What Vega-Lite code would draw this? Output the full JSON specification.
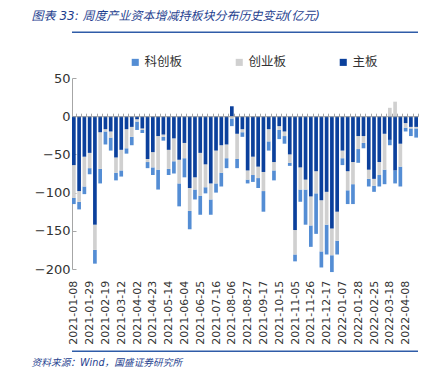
{
  "$schema": "https://vega.github.io/schema/vega-lite/v6.json",
  "background": "white",
  "padding": {"left": 20, "top": 9, "right": 11, "bottom": 5},
  "spacing": 8,
  "bounds": "flush",
  "config": {
    "font": "DejaVu Sans, Noto Sans CJK SC",
    "view": {"stroke": null}
  },
  "resolve": {
    "scale": {"y": "independent", "x": "independent", "color": "independent"},
    "axis": {"x": "independent", "y": "independent"},
    "legend": {"color": "independent"}
  },
  "vconcat": [
    {
      "width": 346,
      "height": 1,
      "title": {
        "text": "图表 33:  周度产业资本增减持板块分布历史变动(亿元)",
        "anchor": "start",
        "dx": -40.4,
        "offset": 41,
        "fontSize": 12,
        "fontStyle": "italic",
        "fontWeight": "normal",
        "color": "#1F3F8F",
        "font": "DejaVu Sans, Noto Sans CJK SC"
      },
      "data": {"values": [{"t": " "}]},
      "mark": {"type": "text"},
      "encoding": {"text": {"field": "t"}}
    },
    {
      "width": 346,
      "height": 191,
      "data": {
        "values": [
          {"d": "2021-01-08", "科创板": -8, "创业板": -43, "主板": -64},
          {"d": "2021-01-15", "科创板": -10, "创业板": -14, "主板": -98},
          {"d": "2021-01-22", "科创板": -10, "创业板": -39, "主板": -53},
          {"d": "2021-01-29", "科创板": -8, "创业板": -20, "主板": -48},
          {"d": "2021-02-05", "科创板": -18, "创业板": -33, "主板": -142},
          {"d": "2021-02-12", "科创板": -19, "创业板": -48, "主板": -21},
          {"d": "2021-02-19", "科创板": -17, "创业板": -3, "主板": -17},
          {"d": "2021-02-26", "科创板": -17, "创业板": -8, "主板": -20},
          {"d": "2021-03-05", "科创板": -10, "创业板": -20, "主板": -54},
          {"d": "2021-03-12", "科创板": -8, "创业板": -27, "主板": -44},
          {"d": "2021-03-19", "科创板": -7, "创业板": -25, "主板": -17},
          {"d": "2021-03-26", "科创板": -11, "创业板": -13, "主板": -14},
          {"d": "2021-04-02", "科创板": -11, "创业板": -3, "主板": -4},
          {"d": "2021-04-09", "科创板": -4, "创业板": -2, "主板": -16},
          {"d": "2021-04-16", "科创板": -8, "创业板": -4, "主板": -56},
          {"d": "2021-04-23", "科创板": -10, "创业板": -20, "主板": -47},
          {"d": "2021-04-30", "科创板": -26, "创业板": -44, "主板": -26},
          {"d": "2021-05-07", "科创板": -5, "创业板": -3, "主板": -24},
          {"d": "2021-05-14", "科创板": -8, "创业板": -25, "主板": -44},
          {"d": "2021-05-21", "科创板": -16, "创业板": -30, "主板": -29},
          {"d": "2021-05-28", "科创板": -30, "创业板": -31, "主板": -57},
          {"d": "2021-06-04", "科创板": -25, "创业板": -20, "主板": -35},
          {"d": "2021-06-11", "科创板": -24, "创业板": -30, "主板": -94},
          {"d": "2021-06-18", "科创板": -13, "创业板": -16, "主板": -80},
          {"d": "2021-06-25", "科创板": -25, "创业板": -56, "主板": -48},
          {"d": "2021-07-02", "科创板": -8, "创业板": -30, "主板": -63},
          {"d": "2021-07-09", "科创板": -20, "创业板": -21, "主板": -88},
          {"d": "2021-07-16", "科创板": -12, "创业板": -43, "主板": -45},
          {"d": "2021-07-23", "科创板": -18, "创业板": -36, "主板": -38},
          {"d": "2021-07-30", "科创板": -13, "创业板": -18, "主板": -37},
          {"d": "2021-08-06", "科创板": -10, "创业板": -3, "主板": 13},
          {"d": "2021-08-13", "科创板": -12, "创业板": -33, "主板": -23},
          {"d": "2021-08-20", "科创板": -6, "创业板": -4, "主板": -17},
          {"d": "2021-08-27", "科创板": -5, "创业板": -12, "主板": -71},
          {"d": "2021-09-03", "科创板": -9, "创业板": -24, "主板": -53},
          {"d": "2021-09-10", "科创板": -13, "创业板": -15, "主板": -66},
          {"d": "2021-09-17", "科创板": -27, "创业板": -25, "主板": -73},
          {"d": "2021-09-24", "科创板": -12, "创业板": -16, "主板": -17},
          {"d": "2021-09-30", "科创板": -13, "创业板": -11, "主板": -60},
          {"d": "2021-10-15", "科创板": -12, "创业板": -5, "主板": -13},
          {"d": "2021-10-22", "科创板": -10, "创业板": -6, "主板": -20},
          {"d": "2021-10-29", "科创板": -4, "创业板": -11, "主板": -50},
          {"d": "2021-11-05", "科创板": -9, "创业板": -32, "主板": -149},
          {"d": "2021-11-12", "科创板": -16, "创业板": -29, "主板": -67},
          {"d": "2021-11-19", "科创板": -46, "创业板": -13, "主板": -83},
          {"d": "2021-11-26", "科创板": -28, "创业板": -38, "主板": -105},
          {"d": "2021-12-03", "科创板": -53, "创业板": -29, "主板": -72},
          {"d": "2021-12-10", "科创板": -21, "创业板": -67, "主板": -110},
          {"d": "2021-12-17", "科创板": -39, "创业板": -43, "主板": -99},
          {"d": "2021-12-24", "科创板": -22, "创业板": -35, "主板": -147},
          {"d": "2021-12-31", "科创板": -18, "创业板": -38, "主板": -125},
          {"d": "2022-01-07", "科创板": -9, "创业板": -10, "主板": -45},
          {"d": "2022-01-14", "科创板": -18, "创业板": -25, "主板": -72},
          {"d": "2022-01-21", "科创板": -26, "创业板": -29, "主板": -60},
          {"d": "2022-01-28", "科创板": -18, "创业板": -17, "主板": -26},
          {"d": "2022-02-11", "科创板": -7, "创业板": -9, "主板": -26},
          {"d": "2022-02-18", "科创板": -10, "创业板": -12, "主板": -70},
          {"d": "2022-02-25", "科创板": -8, "创业板": -9, "主板": -82},
          {"d": "2022-03-04", "科创板": -15, "创业板": -17, "主板": -60},
          {"d": "2022-03-11", "科创板": -19, "创业板": -47, "主板": -23},
          {"d": "2022-03-18", "科创板": -7, "创业板": 11, "主板": -31},
          {"d": "2022-03-25", "科创板": -17, "创业板": 19, "主板": -71},
          {"d": "2022-04-01", "科创板": -26, "创业板": -30, "主板": -36},
          {"d": "2022-04-08", "科创板": -5, "创业板": -6, "主板": -9},
          {"d": "2022-04-15", "科创板": -10, "创业板": -2, "主板": -14},
          {"d": "2022-04-22", "科创板": -12, "创业板": -2, "主板": -14}
        ]
      },
      "resolve": {"axis": {"y": "independent"}},
      "layer": [
        {
          "transform": [{"fold": ["科创板", "创业板", "主板"], "as": ["board", "value"]}],
          "mark": {"type": "bar"},
          "encoding": {
            "x": {
              "field": "d",
              "type": "ordinal",
              "sort": null,
              "scale": {"paddingInner": 0.3, "paddingOuter": 0},
              "axis": {
                "title": null,
                "orient": "bottom",
                "offset": -152.8,
                "zindex": 1,
                "domainColor": "#A6A6A6",
                "tickColor": "#A6A6A6",
                "tickSize": -3,
                "tickBand": "extent",
                "labelAngle": -90,
                "labelPadding": 167,
                "labelFont": "DejaVu Sans",
                "labelFontSize": 11,
                "labelColor": "#333333",
                "labelOverlap": false,
                "labelBound": false,
                "labelFlush": false,
                "labelExpr": "indexof(['2021-01-08','2021-01-29','2021-02-19','2021-03-12','2021-04-02','2021-04-23','2021-05-14','2021-06-04','2021-06-25','2021-07-16','2021-08-06','2021-08-27','2021-09-17','2021-10-15','2021-11-05','2021-11-26','2021-12-17','2022-01-07','2022-01-28','2022-02-25','2022-03-18','2022-04-08'], datum.value) >= 0 ? datum.value : ''"
              }
            },
            "y": {
              "field": "value",
              "type": "quantitative",
              "stack": "zero",
              "scale": {"domain": [-200, 50], "nice": false},
              "axis": {
                "title": " ",
                "titleX": -52,
                "titleY": 0,
                "titleAngle": 0,
                "titleAlign": "left",
                "titleBaseline": "top",
                "titleFontSize": 10,
                "values": [-200, -150, -100, -50, 0, 50],
                "grid": false,
                "domainColor": "#A6A6A6",
                "tickColor": "#A6A6A6",
                "tickSize": -4,
                "labelPadding": 6,
                "labelFont": "DejaVu Sans",
                "labelFontSize": 13,
                "labelColor": "#333333",
                "labelExpr": "datum.value >= 0 ? datum.label + '  ' : datum.label"
              }
            },
            "color": {
              "field": "board",
              "type": "nominal",
              "scale": {"domain": ["科创板", "创业板", "主板"], "range": ["#548DD4", "#D0D0D0", "#0B409C"]},
              "legend": {
                "title": null,
                "orient": "none",
                "legendX": 57,
                "legendY": -22,
                "direction": "horizontal",
                "columns": 3,
                "symbolType": "square",
                "symbolSize": 50,
                "symbolStrokeWidth": 0,
                "symbolOpacity": 1,
                "labelFont": "Noto Sans CJK SC",
                "labelFontSize": 12.5,
                "labelColor": "#333333",
                "labelOffset": 3,
                "columnPadding": 50
              }
            },
            "order": {"field": "board", "sort": "ascending"}
          }
        },
        {
          "data": {"values": [{"t": "top"}]},
          "mark": {"type": "rule", "stroke": "#2F5CA8", "strokeWidth": 1.5},
          "encoding": {"y": {"datum": 110, "type": "quantitative", "axis": null}}
        },
        {
          "data": {"values": [{"t": "bottom"}]},
          "mark": {"type": "rule", "stroke": "#2F5CA8", "strokeWidth": 1.5},
          "encoding": {"y": {"datum": -307.6, "type": "quantitative", "axis": null}}
        }
      ]
    },
    {
      "width": 346,
      "height": 1,
      "title": {
        "text": "资料来源：Wind，国盛证券研究所",
        "orient": "bottom",
        "anchor": "start",
        "dx": -40.4,
        "offset": 75,
        "fontSize": 9.7,
        "fontStyle": "italic",
        "fontWeight": "normal",
        "color": "#1F3F8F",
        "font": "DejaVu Sans, Noto Sans CJK SC"
      },
      "data": {"values": [{"t": " "}]},
      "mark": {"type": "text"},
      "encoding": {"text": {"field": "t"}}
    }
  ]
}
